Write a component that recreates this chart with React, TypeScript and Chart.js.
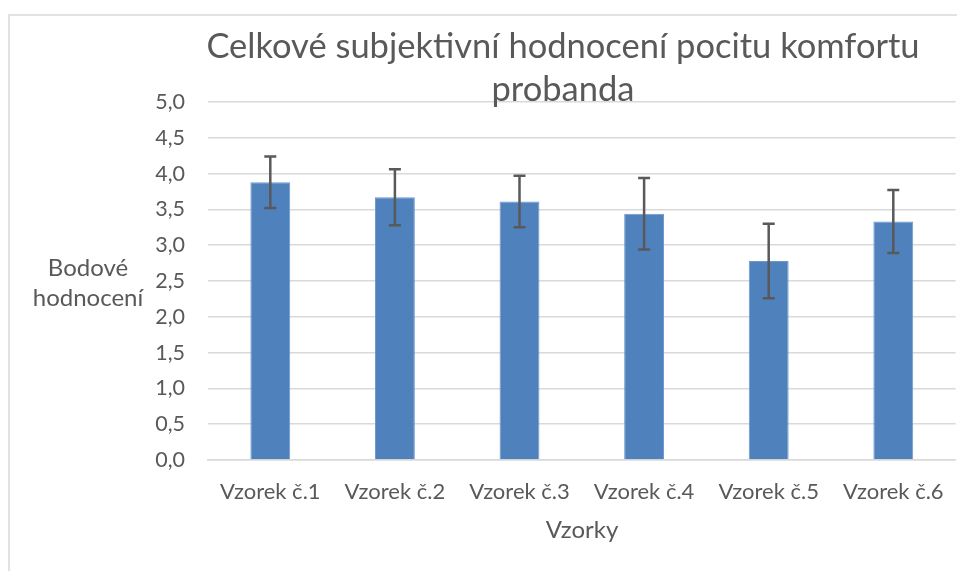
import React, { useEffect, useRef } from "react";
import { Chart, registerables } from "chart.js";

Chart.register(...registerables);

const categories = ["Vzorek č.1", "Vzorek č.2", "Vzorek č.3", "Vzorek č.4", "Vzorek č.5", "Vzorek č.6"];
const values = [3.88, 3.67, 3.61, 3.44, 2.78, 3.33];
const errors = [0.36, 0.39, 0.36, 0.5, 0.52, 0.44];
const titleLines = ["Celkové subjektivní hodnocení pocitu komfortu", "probanda"];
const yTitleLines = ["Bodové", "hodnocení"];
const xTitle = "Vzorky";

const FONT = "Lato, 'Open Sans', sans-serif";
const TEXT = "#595959";

const errorBarPlugin = {
  id: "errorBars",
  afterDatasetsDraw(chart: any) {
    const ctx = chart.ctx;
    const meta = chart.getDatasetMeta(0);
    const y = chart.scales.y;
    ctx.save();
    ctx.strokeStyle = "#595959";
    ctx.lineWidth = 2.5;
    meta.data.forEach((bar: any, i: number) => {
      const x = bar.x;
      const top = y.getPixelForValue(values[i] + errors[i]);
      const bot = y.getPixelForValue(values[i] - errors[i]);
      ctx.beginPath();
      ctx.moveTo(x, top);
      ctx.lineTo(x, bot);
      ctx.moveTo(x - 6, top);
      ctx.lineTo(x + 6, top);
      ctx.moveTo(x - 6, bot);
      ctx.lineTo(x + 6, bot);
      ctx.stroke();
    });
    ctx.restore();
  },
};

const textPlugin = {
  id: "texts",
  afterDraw(chart: any) {
    const ctx = chart.ctx;
    ctx.save();
    ctx.fillStyle = TEXT;
    ctx.textAlign = "center";
    ctx.textBaseline = "middle";
    ctx.font = `34.5px ${FONT}`;
    ctx.fillText(titleLines[0], 553, 31);
    ctx.fillText(titleLines[1], 553, 74);
    ctx.font = `24px ${FONT}`;
    ctx.fillText(yTitleLines[0], 78, 252);
    ctx.fillText(yTitleLines[1], 78, 282);
    ctx.fillText(xTitle, 572, 514);
    ctx.restore();
  },
};

export default function App() {
  const ref = useRef<HTMLCanvasElement>(null);
  useEffect(() => {
    if (!ref.current) return;
    const chart = new Chart(ref.current, {
      type: "bar",
      data: {
        labels: categories,
        datasets: [
          {
            data: values,
            backgroundColor: "#4F81BD",
            borderColor: "#6B97CF",
            borderWidth: 1,
            barPercentage: 0.32,
            categoryPercentage: 1,
          },
        ],
      },
      options: {
        responsive: false,
        animation: false,
        layout: { padding: { left: 0, top: 86, right: 5, bottom: 0 } },
        plugins: { legend: { display: false }, tooltip: { enabled: false }, title: { display: false } },
        scales: {
          x: {
            grid: { display: false, drawTicks: false },
            border: { display: true, color: "#d9d9d9", width: 1.5 },
            ticks: { color: TEXT, font: { family: FONT, size: 22 }, padding: 19, maxRotation: 0 },
            afterFit: (s: any) => {
              s.height = 111;
            },
          },
          y: {
            min: 0,
            max: 5,
            grid: { color: "#d9d9d9", lineWidth: 1.5, drawTicks: false },
            border: { display: false },
            ticks: {
              stepSize: 0.5,
              color: TEXT,
              font: { family: FONT, size: 21.5 },
              padding: 23,
              callback: (v: any) => Number(v).toFixed(1).replace(".", ","),
            },
            afterFit: (s: any) => {
              s.width = 198;
            },
          },
        },
      },
      plugins: [errorBarPlugin, textPlugin],
    });
    return () => chart.destroy();
  }, []);
  return (
    <div
      style={{
        marginTop: 6,
        borderTop: "2px solid #e2e2e2",
        borderLeft: "2px solid #e2e2e2",
        width: 953,
        height: 555,
      }}
    >
      <canvas ref={ref} width={953} height={555} style={{ display: "block" }} />
    </div>
  );
}
